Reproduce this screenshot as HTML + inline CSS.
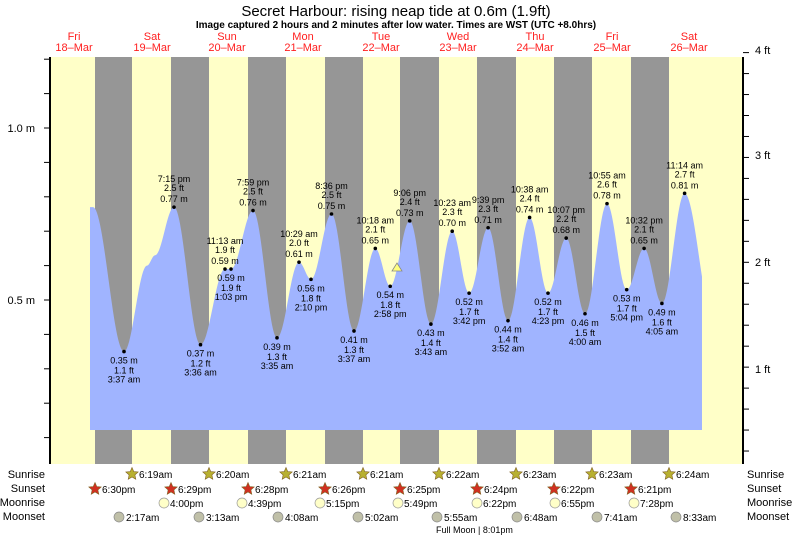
<!DOCTYPE html>
<html><head><meta charset="utf-8"><style>
html,body{margin:0;padding:0;background:#fff;}
svg{display:block;font-family:"Liberation Sans",sans-serif;}
</style></head><body>
<svg id="s" width="793" height="538" viewBox="0 0 793 538" xmlns="http://www.w3.org/2000/svg">
<rect x="0" y="0" width="793" height="538" fill="#fff"/>
<rect x="50" y="57" width="693" height="407" fill="#ffffc8"/>
<g fill="#969696">
<rect x="95" y="57" width="37" height="407"/><rect x="171" y="57" width="38" height="407"/>
<rect x="248" y="57" width="38" height="407"/><rect x="325" y="57" width="38" height="407"/>
<rect x="400" y="57" width="39" height="407"/><rect x="477" y="57" width="39" height="407"/>
<rect x="554" y="57" width="38" height="407"/><rect x="631" y="57" width="38" height="407"/>
</g>
<path id="tide" fill="#a0b4ff" d=""/>
<g id="dyn"></g>
<line x1="50" y1="57" x2="50" y2="464" stroke="#000" stroke-width="2"/>
<line x1="743" y1="57" x2="743" y2="464" stroke="#000" stroke-width="2"/>
<text x="396" y="16" font-size="15" text-anchor="middle">Secret Harbour: rising  neap tide at 0.6m (1.9ft)</text>
<text x="396" y="28" font-size="10" font-weight="bold" text-anchor="middle">Image captured 2 hours and 2 minutes after low water. Times are WST (UTC +8.0hrs)</text>
<g font-size="11" fill="#000">
<text x="35" y="132" text-anchor="end">1.0 m</text>
<text x="35" y="304" text-anchor="end">0.5 m</text>
<text x="755" y="54">4 ft</text><text x="755" y="159">3 ft</text>
<text x="755" y="266">2 ft</text><text x="755" y="373">1 ft</text>
</g>
<polygon points="397,263 392,271 402,271" fill="#ffff80" stroke="#888" stroke-width="0.8"/>
<g font-size="11" fill="#000" text-anchor="end">
<text x="45" y="478">Sunrise</text><text x="45" y="492">Sunset</text><text x="45" y="506">Moonrise</text><text x="45" y="520">Moonset</text>
</g>
<g font-size="11" fill="#000">
<text x="747" y="478">Sunrise</text><text x="747" y="492">Sunset</text><text x="747" y="506">Moonrise</text><text x="747" y="520">Moonset</text>
</g>
<text x="436" y="533" font-size="9">Full Moon | 8:01pm</text>
</svg>
<script>
var NS="http://www.w3.org/2000/svg",g=document.getElementById("dyn");
function el(t,a,txt){var e=document.createElementNS(NS,t);for(var k in a)e.setAttribute(k,a[k]);if(txt!==undefined)e.textContent=txt;g.appendChild(e);return e;}
function Y(h){return 472-h*344;}
[["Fri","18–Mar",74],["Sat","19–Mar",152],["Sun","20–Mar",227],["Mon","21–Mar",303],["Tue","22–Mar",381],["Wed","23–Mar",458],["Thu","24–Mar",535],["Fri","25–Mar",612],["Sat","26–Mar",689]].forEach(function(d){
el("text",{x:d[2],y:40,"font-size":11,fill:"#ff2020","text-anchor":"middle"},d[0]);
el("text",{x:d[2],y:51,"font-size":11,fill:"#ff2020","text-anchor":"middle"},d[1]);});
for(var h=0.1;h<=1.21;h+=0.1){el("line",{x1:44,y1:Y(h),x2:50,y2:Y(h),stroke:"#000"});}
for(var f=0.2;f<=4.01;f+=0.2){var y=472-f*0.3048*344;el("line",{x1:743,y1:y,x2:749,y2:y,stroke:"#000"});}
var P=[[90,0.77,0],[93,0.77,0],[124,0.35,"L","3:37 am","1.1 ft"],[147,0.60,0],[155,0.63,0],[174,0.77,"H","7:15 pm","2.5 ft"],
[200.5,0.37,"L","3:36 am","1.2 ft"],[225,0.59,"H","11:13 am","1.9 ft"],[231,0.59,"L","1:03 pm","1.9 ft"],[253,0.76,"H","7:59 pm","2.5 ft"],
[277,0.39,"L","3:35 am","1.3 ft"],[299,0.61,"H","10:29 am","2.0 ft"],[311,0.56,"L","2:10 pm","1.8 ft"],[331.5,0.75,"H","8:36 pm","2.5 ft"],
[354,0.41,"L","3:37 am","1.3 ft"],[375.3,0.65,"H","10:18 am","2.1 ft"],[390.2,0.54,"L","2:58 pm","1.8 ft"],[409.7,0.73,"H","9:06 pm","2.4 ft"],
[430.9,0.43,"L","3:43 am","1.4 ft"],[452.2,0.70,"H","10:23 am","2.3 ft"],[469.1,0.52,"L","3:42 pm","1.7 ft"],[488.1,0.71,"H","9:39 pm","2.3 ft"],
[508,0.44,"L","3:52 am","1.4 ft"],[529.6,0.74,"H","10:38 am","2.4 ft"],[548,0.52,"L","4:23 pm","1.7 ft"],[566.2,0.68,"H","10:07 pm","2.2 ft"],
[585,0.46,"L","4:00 am","1.5 ft"],[607,0.78,"H","10:55 am","2.6 ft"],[626.7,0.53,"L","5:04 pm","1.7 ft"],[644.1,0.65,"H","10:32 pm","2.1 ft"],
[661.9,0.49,"L","4:05 am","1.6 ft"],[684.6,0.81,"H","11:14 am","2.7 ft"],[713,0.45,0]];
var d="M90,430 L90,"+Y(0.77).toFixed(1);
for(var i=0;i<P.length-1;i++){var a=P[i],b=P[i+1];for(var x=Math.ceil(a[0]);x<=b[0];x+=1){if(x>702)break;var t=(x-a[0])/(b[0]-a[0]);var hh=a[1]+(b[1]-a[1])*(1-Math.cos(Math.PI*t))/2;d+=" L"+x+","+Y(hh).toFixed(1);}}
d+=" L702,430 Z";document.getElementById("tide").setAttribute("d",d);
P.forEach(function(p){if(!p[2])return;var y=Y(p[1]);el("circle",{cx:p[0],cy:y,r:1.8,fill:"#000"});
var m=p[1].toFixed(2)+" m",A={"font-size":9,"text-anchor":"middle",fill:"#000"};
function T(yy,s){var o=Object.assign({x:p[0],y:yy},A);el("text",o,s);}
if(p[2]=="H"){T(y-25,p[3]);T(y-16,p[4]);T(y-5,m);}else{T(y+12,m);T(y+22,p[4]);T(y+31,p[3]);}});
function star(cx,cy,fill){var s="";for(var k=0;k<10;k++){var r=k%2?3:6.5,an=-Math.PI/2+k*Math.PI/5;s+=(cx+r*Math.cos(an)).toFixed(1)+","+(cy+r*Math.sin(an)).toFixed(1)+" ";}el("polygon",{points:s,fill:fill,stroke:"#806020","stroke-width":0.6});}
[[132,"6:19am"],[209,"6:20am"],[286,"6:21am"],[363,"6:21am"],[439,"6:22am"],[516,"6:23am"],[592,"6:23am"],[669,"6:24am"]].forEach(function(s){star(s[0],474,"#b8b030");el("text",{x:s[0]+7,y:478,"font-size":10},s[1]);});
[[95,"6:30pm"],[171,"6:29pm"],[248,"6:28pm"],[325,"6:26pm"],[400,"6:25pm"],[477,"6:24pm"],[554,"6:22pm"],[631,"6:21pm"]].forEach(function(s){star(s[0],489,"#d03020");el("text",{x:s[0]+7,y:493,"font-size":10},s[1]);});
[[164,"4:00pm"],[242,"4:39pm"],[320,"5:15pm"],[398,"5:49pm"],[477,"6:22pm"],[555,"6:55pm"],[634,"7:28pm"]].forEach(function(s){el("circle",{cx:s[0],cy:503,r:5,fill:"#ffffc8",stroke:"#999","stroke-width":0.7});el("text",{x:s[0]+6,y:507,"font-size":10},s[1]);});
[[119,"2:17am"],[199,"3:13am"],[278,"4:08am"],[358,"5:02am"],[437,"5:55am"],[517,"6:48am"],[597,"7:41am"],[676,"8:33am"]].forEach(function(s){el("circle",{cx:s[0],cy:517,r:5,fill:"#c0c0a8",stroke:"#888","stroke-width":0.7});el("text",{x:s[0]+7,y:521,"font-size":10},s[1]);});
</script>
</body></html>
